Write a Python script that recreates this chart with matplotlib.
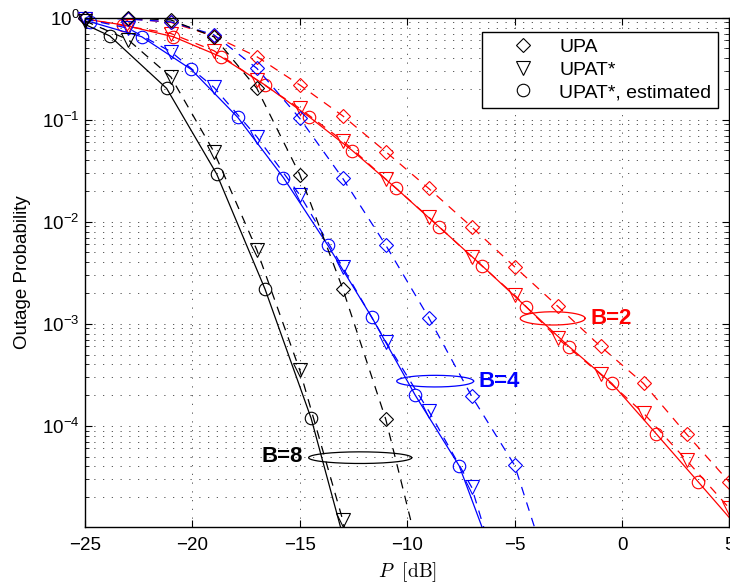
import numpy as np
import matplotlib
matplotlib.use('Agg')
import matplotlib.pyplot as plt
from matplotlib.lines import Line2D

plt.rcParams['font.family'] = ['Liberation Sans', 'DejaVu Sans']
plt.rcParams['mathtext.default'] = 'regular'

# data ------------------>
# B = 8
p_upa_b8 = [-25, -23, -21, -19, -17, -15, -13, -11, -9]
upa_b8 = [0.995, 0.993, 0.95, 0.65, 0.203, 0.029, 2.2e-3, 1.16e-4, 2.3e-6]
p_upat_b8 = [-25, -23, -21, -19, -17, -15, -13, -11]
upat_b8 = [0.93, 0.61, 0.262, 0.0486, 5.3e-3, 3.5e-4, 1.19e-5, 1e-7]
p_est_b8 = [-25, -23.84, -21.2, -18.87, -16.62, -14.47, -12.2]
est_b8 = [0.86, 0.662, 0.203, 0.0294, 2.19e-3, 1.18e-4, 2e-6]

# B = 4
p_upa_b4 = [-25, -23, -21, -19, -17, -15, -13, -11, -9, -7, -5, -3]
upa_b4 = [1.0, 0.97, 0.91, 0.68, 0.319, 0.103, 0.0266, 5.9e-3, 1.15e-3, 1.95e-4, 4.1e-5, 2e-6]
p_upat_b4 = [-25, -23, -21, -19, -17, -15, -13, -11, -9, -7, -5]
upat_b4 = [0.97, 0.79, 0.464, 0.208, 0.068, 0.0183, 3.57e-3, 6.7e-4, 1.4e-4, 2.5e-5, 1e-6]
p_est_b4 = [-24.77, -22.36, -20.06, -17.89, -15.76, -13.70, -11.65, -9.63, -7.58, -5.5]
est_b4 = [0.914, 0.651, 0.312, 0.1056, 0.027, 5.9e-3, 1.16e-3, 2.0e-4, 4.05e-5, 2.7e-6]

# B = 2
p_upa_b2 = [-25, -23, -21, -19, -17, -15, -13, -11, -9, -7, -5, -3, -1, 1, 3, 5]
upa_b2 = [0.995, 0.98, 0.9, 0.66, 0.415, 0.219, 0.109, 0.0486, 0.0212, 8.9e-3,
          3.62e-3, 1.49e-3, 6.0e-4, 2.6e-4, 8.3e-5, 2.8e-5]
p_upat_b2 = [-25, -23, -21, -19, -17, -15, -13, -11, -9, -7, -5, -3, -1, 1, 3, 5]
upat_b2 = [0.98, 0.82, 0.70, 0.475, 0.245, 0.129, 0.0622, 0.0262, 0.0111, 4.54e-3,
           1.91e-3, 7.2e-4, 3.2e-4, 1.33e-4, 4.6e-5, 1.55e-5]
p_est_b2 = [-25, -23.23, -20.89, -18.68, -16.62, -14.57, -12.55, -10.51, -8.51, -6.50,
            -4.47, -2.46, -0.47, 1.58, 3.54, 5.5]
est_b2 = [0.97, 0.85, 0.651, 0.415, 0.219, 0.107, 0.0497, 0.0212, 8.87e-3, 3.68e-3,
          1.47e-3, 5.95e-4, 2.6e-4, 8.4e-5, 2.83e-5, 9.5e-6]

# ellipse annotations: centre (dB, log10 prob), half axes
b_labels = ['B=2', 'B=4', 'B=8']
b_colors = ['#ff0000', '#0000ff', 'k']
ell_cx = [-3.23, -8.70, -12.19]
ell_cy = [-2.947, -3.562, -4.312]
ell_a = [1.51, 1.79, 2.40]
ell_b = [0.065, 0.057, 0.057]
lab_x = [-1.45, -6.70, -14.85]
lab_y = [1.13e-3, 2.74e-4, 5.05e-5]
lab_ha = ['left', 'left', 'right']

y_lo, y_hi = 1.02e-5, 1.0
x_lo, x_hi = -25, 5

# figure ------------------>
fig = plt.figure(figsize=(7.3, 5.86), dpi=100)
ax = fig.add_axes([0.1164, 0.1007, 0.8829, 0.8691])
ax.set_yscale('log')

dash = (0, (7, 6))


def draw(px, py, color, ls, marker, ms, marks=slice(None)):
    px = np.asarray(px, float)
    py = np.asarray(py, float)
    ax.plot(px, py, color=color, ls=ls, lw=0.9)
    mx, my = px[marks], py[marks]
    keep = (my >= y_lo) & (mx <= x_hi)
    ax.plot(mx[keep], my[keep], ls='none', marker=marker, ms=ms, mfc='none',
            mec=color, mew=0.8, clip_on=False)


for col, pu, u, pt, t, pe, e, mk in [
        ('#ff0000', p_upa_b2, upa_b2, p_upat_b2, upat_b2, p_est_b2, est_b2, slice(1, -1)),
        ('#0000ff', p_upa_b4, upa_b4, p_upat_b4, upat_b4, p_est_b4, est_b4, slice(0, -1)),
        ('k', p_upa_b8, upa_b8, p_upat_b8, upat_b8, p_est_b8, est_b8, slice(1, -1))]:
    draw(pu, u, col, dash, 'D', 7)
    draw(pt, t, col, dash, 'v', 9.5)
    draw(pe, e, col, '-', 'o', 9, mk)

# B labels with ellipses
tt = np.linspace(0, 2 * np.pi, 300)
for i in range(3):
    ax.plot(ell_cx[i] + ell_a[i] * np.cos(tt),
            10 ** (ell_cy[i] + ell_b[i] * np.sin(tt)), color=b_colors[i], lw=0.9)
    ax.text(lab_x[i], lab_y[i], b_labels[i], color=b_colors[i], fontsize=16,
            fontweight='bold', ha=lab_ha[i], va='center')

ax.set_xlim(x_lo, x_hi)
ax.set_ylim(y_lo, y_hi)
ax.set_xticks([-25, -20, -15, -10, -5, 0, 5])
ax.set_yticks([1e-4, 1e-3, 1e-2, 1e-1, 1])

grid_ls = (0, (1.5, 9))
ax.grid(True, which='major', ls=grid_ls, lw=0.6, color='0.25')
ax.yaxis.grid(True, which='minor', ls=grid_ls, lw=0.6, color='0.25')

ax.tick_params(which='both', direction='in', top=True, right=True, labelsize=13.5)
ax.tick_params(which='major', length=5, width=0.8)
ax.tick_params(which='minor', length=3, width=0.6)
ax.tick_params(axis='x', pad=7)
ax.tick_params(axis='y', pad=4)
for s in ax.spines.values():
    s.set_linewidth(1.0)

ax.set_ylabel('Outage Probability', fontsize=13.5, labelpad=8)
ax.set_xlabel(r'$\mathit{P}\ \ \mathrm{[dB]}$', math_fontfamily='cm', fontsize=14, labelpad=5)

# legend shows markers only
handles = [Line2D([], [], ls='none', marker=m, ms=s, mfc='none', mec='k', mew=0.8)
           for m, s in [('D', 7), ('v', 9.5), ('o', 9)]]
leg = ax.legend(handles, ['UPA', 'UPAT*', 'UPAT*, estimated'], loc='upper right',
                bbox_to_anchor=(0.9826, 0.9725), borderaxespad=0, fontsize=14,
                fancybox=False, edgecolor='k', framealpha=1, borderpad=0.35,
                handlelength=3.52, handletextpad=0.13, labelspacing=0.25)
leg.get_frame().set_linewidth(1.0)

fig.savefig('out.png', dpi=100)
